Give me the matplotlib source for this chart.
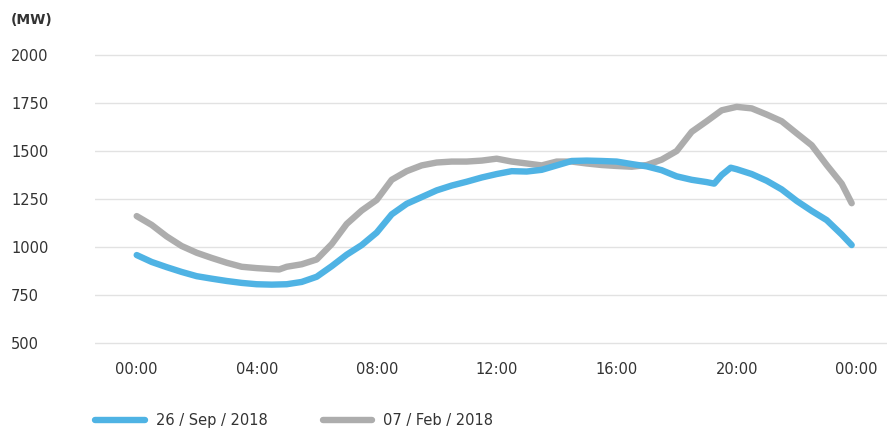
import matplotlib
matplotlib.use('Agg')
import matplotlib.pyplot as plt

# hours of day (last sample is 23:50)
hours_sep = [0.0, 0.5, 1.0, 1.5, 2.0, 2.5, 3.0, 3.5, 4.0, 4.5, 5.0, 5.5,
             6.0, 6.5, 7.0, 7.5, 8.0, 8.5, 9.0, 9.5, 10.0, 10.5, 11.0, 11.5,
             12.0, 12.5, 13.0, 13.5, 14.0, 14.5, 15.0, 15.5, 16.0, 16.5, 17.0, 17.5,
             18.0, 18.5, 19.0, 19.25, 19.5, 19.8, 20.0, 20.5, 21.0, 21.5, 22.0, 22.5,
             23.0, 23.5, 23.833]
load_sep = [958, 922, 895, 870, 848, 835, 823, 813, 806, 804, 806, 818,
            845, 900, 960, 1010, 1075, 1170, 1225, 1260, 1295, 1320, 1340, 1362,
            1380, 1395, 1393, 1402, 1425, 1448, 1450, 1448, 1445, 1432, 1420, 1400,
            1368, 1350, 1338, 1330, 1375, 1413, 1405, 1380, 1345, 1300, 1240, 1188,
            1140, 1065, 1010]

hours_feb = [0.0, 0.5, 1.0, 1.5, 2.0, 2.5, 3.0, 3.5, 4.0, 4.5, 4.75, 5.0, 5.5,
             6.0, 6.5, 7.0, 7.5, 8.0, 8.5, 9.0, 9.5, 10.0, 10.5, 11.0, 11.5,
             12.0, 12.5, 13.0, 13.5, 14.0, 14.5, 15.0, 15.5, 16.0, 16.5, 17.0, 17.5,
             18.0, 18.5, 19.0, 19.5, 20.0, 20.5, 21.0, 21.5, 22.0, 22.5,
             23.0, 23.5, 23.833]
load_feb = [1161, 1115, 1055, 1005, 970, 943, 918, 897, 890, 885, 883, 897, 910,
            935, 1015, 1120, 1190, 1245, 1350, 1395, 1425, 1440, 1445, 1445, 1450,
            1460, 1445, 1435, 1425, 1445, 1445, 1435, 1427, 1422, 1418, 1427, 1455,
            1500, 1600, 1655, 1712, 1730, 1722, 1690, 1655, 1592, 1530,
            1427, 1330, 1228]

xticks = [0, 4, 8, 12, 16, 20, 24]
xticklabels = ['00:00', '04:00', '08:00', '12:00', '16:00', '20:00', '00:00']
yticks = [500, 750, 1000, 1250, 1500, 1750, 2000]

BLUE = '#4fb3e4'
GRAY = '#adadad'
TXT = '#333333'
FS = 10.5

plt.rcParams['font.family'] = ['DejaVu Sans']

fig = plt.figure(figsize=(8.89, 4.30), dpi=100)
ax = fig.add_axes([95 / 889, 1 - 350 / 430, (887 - 95) / 889, (350 - 48) / 430])

ax.plot(hours_sep, load_sep, color=BLUE, lw=4.6, solid_capstyle='round',
        solid_joinstyle='round', label='26 / Sep / 2018', zorder=3)
ax.plot(hours_feb, load_feb, color=GRAY, lw=4.6, solid_capstyle='round',
        solid_joinstyle='round', label='07 / Feb / 2018', zorder=2)

ax.set_xlim(-1.39, 25.01)
ax.set_ylim(463.5, 2036.5)

ax.set_xticks(xticks)
ax.set_xticklabels(xticklabels, fontsize=FS, color=TXT)
ax.set_yticks(yticks)
ax.set_yticklabels([str(v) for v in yticks], fontsize=FS, color=TXT)
for lbl in ax.get_yticklabels():
    lbl.set_ha('left')
ax.tick_params(axis='y', length=0, pad=60.5)
ax.tick_params(axis='x', length=0, pad=9)

ax.grid(axis='y', color='#e2e2e2', lw=1)
ax.set_axisbelow(True)
for s in ax.spines.values():
    s.set_visible(False)

fig.text(11 / 889, 1 - 20 / 430, '(MW)', fontsize=10, color=TXT,
         fontweight='bold', va='center', ha='left')

fig.legend(loc='center left', bbox_to_anchor=(95 / 889, 9 / 430),
           ncol=2, frameon=False, fontsize=FS, handlelength=3.4,
           handletextpad=0.75, columnspacing=3.8, borderpad=0, borderaxespad=0,
           labelcolor=TXT)

fig.savefig('out.png', dpi=100, facecolor='white')
